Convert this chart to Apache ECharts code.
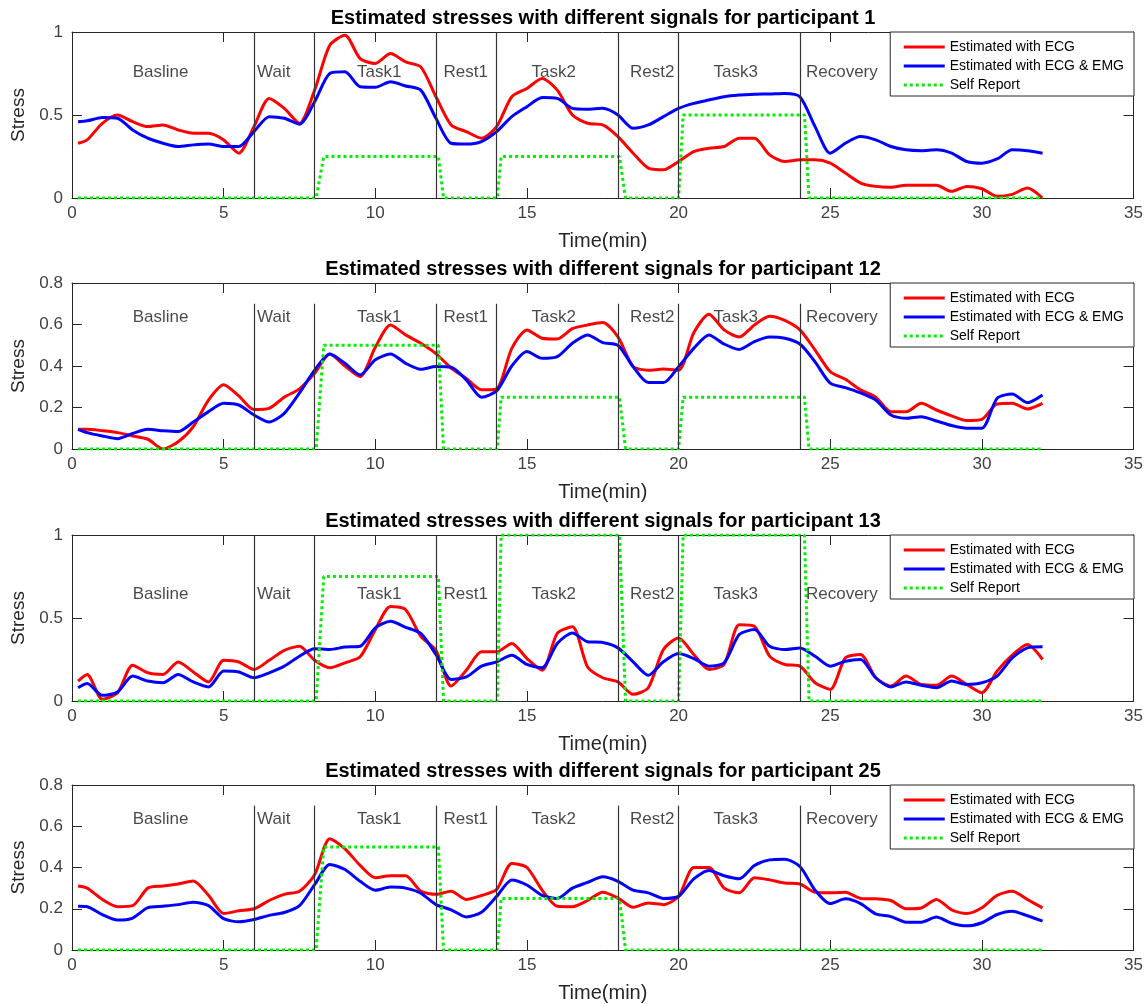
<!DOCTYPE html>
<html><head><meta charset="utf-8">
<script src="https://cdn.jsdelivr.net/npm/echarts@6/dist/echarts.min.js"></script>
<style>html,body{margin:0;padding:0;background:#fff}#c{width:1146px;height:1004px}</style>
</head><body><div id="c"></div>
<script>
// ---------------- data ----------------
const PARTICIPANTS = [1, 12, 13, 25];
const Y_MAX = [1, 0.8, 1, 0.8];
const TIME = [0.2,0.5,1,1.5,2,2.5,3,3.5,4,4.5,5,5.5,6,6.5,7,7.5,8,8.5,9,9.5,10,10.5,11,11.5,12,12.5,13,13.5,14,14.5,15,15.5,16,16.5,17,17.5,18,18.5,19,19.5,20,20.5,21,21.5,22,22.5,23,23.5,24,24.5,25,25.5,26,26.5,27,27.5,28,28.5,29,29.5,30,30.5,31,31.5,32];

const ECG_P1 = [0.33,0.35,0.45,0.50,0.46,0.43,0.44,0.41,0.39,0.39, 0.35,0.27,0.43,0.60,0.54,0.45,0.65,0.92,0.98,0.84, 0.81,0.87,0.82,0.79,0.61,0.44,0.40,0.36,0.43,0.61, 0.66,0.72,0.65,0.50,0.45,0.44,0.37,0.27,0.18,0.17, 0.22,0.28,0.30,0.31,0.36,0.36,0.26,0.22,0.23,0.23, 0.21,0.15,0.09,0.07,0.065,0.077,0.077,0.077,0.04,0.07, 0.056,0.01,0.022,0.06,0.0];
const EMG_P1 = [0.46,0.465,0.485,0.48,0.41,0.36,0.33,0.31,0.32,0.325, 0.31,0.31,0.40,0.49,0.48,0.445,0.58,0.75,0.76,0.67, 0.667,0.70,0.675,0.65,0.48,0.33,0.325,0.34,0.40,0.49, 0.55,0.605,0.60,0.54,0.535,0.54,0.50,0.42,0.44,0.49, 0.54,0.57,0.59,0.61,0.62,0.625,0.627,0.63,0.61,0.43, 0.27,0.33,0.37,0.35,0.31,0.29,0.285,0.29,0.27,0.22, 0.21,0.235,0.29,0.285,0.27];

const ECG_P12 = [0.095,0.095,0.088,0.079,0.063,0.047,0.0,0.035,0.108,0.236, 0.31,0.256,0.19,0.196,0.25,0.29,0.365,0.458,0.40,0.349, 0.49,0.598,0.55,0.51,0.46,0.39,0.34,0.285,0.29,0.485, 0.574,0.534,0.53,0.58,0.598,0.61,0.54,0.397,0.38,0.385, 0.38,0.56,0.65,0.574,0.54,0.598,0.64,0.62,0.574,0.477, 0.373,0.336,0.285,0.25,0.18,0.18,0.22,0.188,0.16,0.137, 0.143,0.217,0.22,0.193,0.22];
const EMG_P12 = [0.095,0.079,0.063,0.05,0.075,0.095,0.088,0.084,0.13,0.18, 0.22,0.212,0.164,0.13,0.172,0.27,0.38,0.458,0.413,0.357, 0.43,0.458,0.413,0.384,0.397,0.394,0.333,0.25,0.28,0.40, 0.47,0.437,0.445,0.51,0.55,0.513,0.50,0.397,0.32,0.32, 0.397,0.485,0.55,0.506,0.48,0.518,0.54,0.534,0.506,0.42, 0.317,0.296,0.27,0.236,0.164,0.148,0.156,0.135,0.113,0.10, 0.10,0.244,0.265,0.223,0.26];

const ECG_P13 = [0.12,0.16,0.01,0.05,0.215,0.17,0.16,0.235,0.175,0.115, 0.245,0.235,0.19,0.245,0.305,0.33,0.245,0.20,0.23,0.266, 0.43,0.57,0.55,0.39,0.306,0.09,0.185,0.296,0.296,0.347, 0.256,0.185,0.407,0.447,0.205,0.14,0.115,0.04,0.08,0.31, 0.38,0.28,0.19,0.22,0.46,0.45,0.27,0.22,0.21,0.11, 0.07,0.26,0.28,0.14,0.09,0.15,0.10,0.095,0.15,0.10, 0.05,0.18,0.276,0.34,0.25];
const EMG_P13 = [0.08,0.105,0.034,0.054,0.15,0.12,0.11,0.16,0.115,0.085, 0.18,0.175,0.14,0.17,0.21,0.27,0.315,0.31,0.325,0.33, 0.44,0.48,0.444,0.407,0.28,0.13,0.145,0.21,0.236,0.275, 0.22,0.2,0.347,0.41,0.357,0.353,0.32,0.236,0.155,0.236, 0.286,0.256,0.21,0.23,0.40,0.43,0.33,0.31,0.32,0.27, 0.21,0.24,0.25,0.14,0.085,0.115,0.095,0.08,0.12,0.1, 0.11,0.15,0.26,0.32,0.327];

const ECG_P25 = [0.31,0.30,0.245,0.21,0.215,0.30,0.31,0.32,0.335,0.265, 0.177,0.19,0.2,0.24,0.27,0.285,0.365,0.54,0.49,0.41, 0.35,0.36,0.36,0.285,0.27,0.285,0.245,0.264,0.293,0.42, 0.40,0.29,0.212,0.21,0.24,0.28,0.252,0.207,0.228,0.22, 0.26,0.40,0.40,0.30,0.277,0.35,0.34,0.325,0.32,0.28, 0.277,0.28,0.25,0.248,0.24,0.2,0.204,0.245,0.195,0.177, 0.205,0.265,0.285,0.245,0.204];
const EMG_P25 = [0.212,0.21,0.172,0.145,0.155,0.205,0.212,0.22,0.232,0.215, 0.152,0.137,0.148,0.168,0.182,0.215,0.317,0.415,0.39,0.333, 0.29,0.305,0.30,0.275,0.22,0.195,0.16,0.183,0.26,0.34, 0.315,0.265,0.25,0.30,0.328,0.355,0.333,0.29,0.277,0.25, 0.26,0.345,0.385,0.36,0.345,0.41,0.437,0.44,0.405,0.29, 0.225,0.248,0.225,0.175,0.162,0.135,0.135,0.16,0.13,0.117, 0.132,0.172,0.188,0.166,0.14];

const SR_TIME = [0.2,8.05,8.3,12.08,12.25,14.02,14.15,18.05,18.25,20.0,20.15,24.15,24.3,32];
const SR_P1  = [0,0,0.25,0.25,0,0,0.25,0.25,0,0,0.5,0.5,0,0];
const SR_P12 = [0,0,0.5,0.5,0,0,0.25,0.25,0,0,0.25,0.25,0,0];
const SR_P13 = [0,0,0.75,0.75,0,0,1,1,0,0,1,1,0,0];
const SR_P25 = [0,0,0.5,0.5,0,0,0.25,0.25,0,0,0,0,0,0];

const PHASES = ['Basline','Wait','Task1','Rest1','Task2','Rest2','Task3','Recovery'];
const PHASE_BOUNDS = [6, 8, 12, 14, 18, 20, 24];
const X_TICKS = [0, 5, 10, 15, 20, 25, 30, 35];
const SERIES_NAMES = ['Estimated with ECG', 'Estimated with ECG & EMG', 'Self Report'];

const ECG = [ECG_P1, ECG_P12, ECG_P13, ECG_P25];
const EMG = [EMG_P1, EMG_P12, EMG_P13, EMG_P25];
const SR = [SR_P1, SR_P12, SR_P13, SR_P25];

// ---------------- layout / style ----------------
const FONT = "'Liberation Sans', Arial, Helvetica, sans-serif";
const AX = '#262626';
const GRID_TOPS = [32, 283, 535, 785];
const GRID_H = 166;
const GRID_L = 72, GRID_R = 12;
const PLOT_CX = GRID_L + (1146 - GRID_L - GRID_R) / 2;
const LABEL_X = [2.0, 6.1, 9.4, 12.25, 15.15, 18.4, 21.15, 24.2];
const LABEL_YFRAC = [0.76, 0.795, 0.64, 0.795]; // fraction of axis range
const VLINE_FRAC = [1, 0.875, 1, 0.875];

const option = {
  animation: false,
  backgroundColor: '#fff',
  grid: [], xAxis: [], yAxis: [], series: [], legend: [], graphic: []
};

for (let p = 0; p < 4; p++) {
  const ymax = Y_MAX[p];
  option.grid.push({left: GRID_L, right: GRID_R, top: GRID_TOPS[p], height: GRID_H, containLabel: false});
  const xBase = {
    gridIndex: p, type: 'value', min: X_TICKS[0], max: X_TICKS[X_TICKS.length - 1], interval: 5,
    splitLine: {show: false},
    axisLine: {show: true, onZero: false, lineStyle: {color: AX, width: 1}},
    axisTick: {show: true, inside: true, length: 10, lineStyle: {color: AX, width: 1}}
  };
  option.xAxis.push(Object.assign({}, xBase, {
    position: 'bottom',
    axisLabel: {show: true, color: '#404040', fontSize: 17, fontFamily: FONT, margin: 7},
    name: 'Time(min)', nameLocation: 'middle', nameGap: 33,
    nameTextStyle: {fontSize: 20, color: AX, fontFamily: FONT}
  }));
  option.xAxis.push(Object.assign({}, xBase, {position: 'top', axisLabel: {show: false}}));
  const yBase = {
    gridIndex: p, type: 'value', min: 0, max: ymax, interval: ymax === 1 ? 0.5 : 0.2,
    splitLine: {show: false},
    axisLine: {show: true, onZero: false, lineStyle: {color: AX, width: 1}},
    axisTick: {show: true, inside: true, length: 10, lineStyle: {color: AX, width: 1}}
  };
  option.yAxis.push(Object.assign({}, yBase, {
    position: 'left',
    axisLabel: {show: true, color: '#404040', fontSize: 17, fontFamily: FONT, margin: 9},
    name: 'Stress', nameLocation: 'middle', nameGap: 44, nameRotate: 90,
    nameTextStyle: {fontSize: 19, color: AX, fontFamily: FONT}
  }));
  option.yAxis.push(Object.assign({}, yBase, {position: 'right', axisLabel: {show: false}}));

  const xi = 2 * p, yi = 2 * p;
  option.series.push({
    type: 'line', name: SERIES_NAMES[0], xAxisIndex: xi, yAxisIndex: yi,
    data: TIME.map((t, i) => [t, ECG[p][i]]),
    symbol: 'none', smooth: 0.25, z: 3,
    lineStyle: {color: '#ff0000', width: 3}, itemStyle: {color: '#ff0000'}
  });
  option.series.push({
    type: 'line', name: SERIES_NAMES[1], xAxisIndex: xi, yAxisIndex: yi,
    data: TIME.map((t, i) => [t, EMG[p][i]]),
    symbol: 'none', smooth: 0.25, z: 3,
    lineStyle: {color: '#0000ff', width: 3}, itemStyle: {color: '#0000ff'}
  });
  option.series.push({
    type: 'line', name: SERIES_NAMES[2], xAxisIndex: xi, yAxisIndex: yi,
    data: SR_TIME.map((t, i) => [t, SR[p][i]]),
    symbol: 'none', z: 4,
    lineStyle: {color: '#00f000', width: 3, type: [3, 3]}, itemStyle: {color: '#00f000'},
    markLine: {
      silent: true, symbol: ['none', 'none'], label: {show: false},
      lineStyle: {color: '#333', width: 1.2, type: 'solid'},
      data: PHASE_BOUNDS.map(b => [{coord: [b, 0]}, {coord: [b, VLINE_FRAC[p] * ymax]}])
    }
  });
  option.series.push({
    type: 'scatter', xAxisIndex: xi, yAxisIndex: yi, symbolSize: 0, silent: true, z: 5,
    data: PHASES.map((n, i) => ({name: n, value: [LABEL_X[i], LABEL_YFRAC[p] * ymax]})),
    label: {show: true, position: 'right', distance: 0, formatter: '{b}', color: '#1a1a1a', fontSize: 17, fontFamily: FONT}
  });
  option.legend.push({
    orient: 'vertical', right: GRID_R, top: GRID_TOPS[p], data: SERIES_NAMES,
    itemWidth: 41, itemHeight: 14, itemGap: 5, padding: [8, 10, 4, 12],
    borderColor: AX, borderWidth: 1, borderRadius: 0, backgroundColor: '#fff',
    selectedMode: false,
    itemStyle: {opacity: 0, borderWidth: 0},
    lineStyle: {width: 3},
    textStyle: {fontSize: 14, color: '#000', fontFamily: FONT}
  });
  option.graphic.push({
    type: 'text', x: PLOT_CX, y: GRID_TOPS[p] - 14, z: 10,
    style: {text: 'Estimated stresses with different signals for participant ' + PARTICIPANTS[p],
      align: 'center', verticalAlign: 'middle', textAlign: 'center', textVerticalAlign: 'middle',
      fontSize: 20, fontWeight: 'bold', fontFamily: FONT, fill: '#000'}
  });
}

const chart = echarts.init(document.getElementById('c'), null, {renderer: 'canvas'});
chart.setOption(option);
</script>
</body></html>
